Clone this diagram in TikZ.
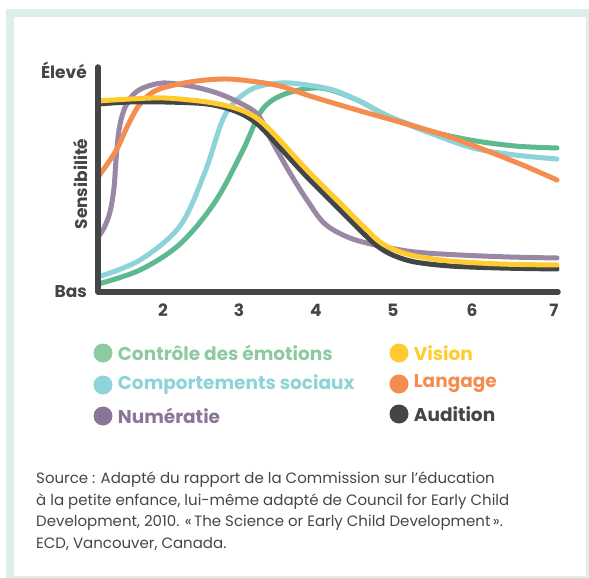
\documentclass[tikz,border=0pt]{standalone}
\usepackage{fontspec}
\setmainfont{Poppins}
\usetikzlibrary{positioning}
\definecolor{framecol}{HTML}{DCEFE9}
\definecolor{axisgray}{HTML}{434647}
\definecolor{emogreen}{HTML}{5DB98F}
\definecolor{legemo}{HTML}{8DCA9F}
\definecolor{soccyan}{HTML}{8DD3D8}
\definecolor{numpurple}{HTML}{9A87A3}
\definecolor{legnum}{HTML}{8A7699}
\definecolor{visyellow}{HTML}{FFCB2F}
\definecolor{langorange}{HTML}{F48D4F}
\begin{document}
\begin{tikzpicture}[x=1pt,y=-1pt,
    axis/.style={line width=5.5pt,axisgray,line cap=round,line join=round},
    curve/.style={line width=5pt,line cap=round,smooth,tension=0.55},
    lbl/.style={font=\fontsize{17}{20}\selectfont\bfseries,text=axisgray,inner sep=0pt},
    dot/.style={circle,inner sep=0pt,minimum size=19pt},
    legtxt/.style={font=\fontsize{18.5}{22}\selectfont\bfseries,inner sep=0pt,right=5pt of #1}]
    \useasboundingbox (0,0) rectangle (589,578);
    %draw frame
    \draw[line width=8pt,framecol] (10,13) rectangle (590,580);
    %draw curves
    \draw[curve,emogreen] plot coordinates {(98,284) (140,270) (180,244) (215,202) (243,150) (262,110) (285,94) (320,88) (355,99) (390,117) (430,131) (470,140) (515,146) (557,148)};
    \draw[curve,soccyan] plot coordinates {(98,277) (140,260) (180,226) (205,172) (225,115) (250,90) (280,83) (307,85) (333,90) (357,100) (390,117) (430,133) (473,148) (515,155) (557,159)};
    \draw[curve,numpurple] plot coordinates {(98,237) (104,228) (110,212) (114,188) (116,160) (119,130) (124,110) (132,96) (143,88) (163,83) (190,86) (217,93) (240,103) (258,115) (273,143) (290,173) (307,200) (325,224) (350,238) (380,246) (415,252) (460,255) (510,257) (557,258)};
    \draw[curve,langorange] plot coordinates {(98,177) (108,163) (118,147) (128,125) (140,104) (157,90) (190,82) (223,79) (250,81) (280,86) (310,96) (357,110) (410,125) (450,137) (490,152) (525,166) (557,180)};
    \draw[curve,axisgray] plot coordinates {(98,104) (130,102) (165,102) (207,104) (235,111) (255,122) (273,140) (307,177) (340,210) (365,235) (380,248) (395,256) (415,262) (450,266) (500,268) (557,269)};
    \draw[curve,visyellow] plot coordinates {(98,101) (130,99) (165,98) (207,102) (235,108) (255,117) (273,133) (307,170) (340,203) (365,228) (380,242) (395,250) (415,256) (450,261) (500,264) (557,265)};
    %draw axis
    \coordinate (ytop) at (98,67);
    \coordinate (orig) at (98,292);
    \coordinate (xend) at (558,292);
    \draw[axis] (ytop) -- (orig) -- (xend);
    %draw axis value
    \foreach \t/\px in {2/163,3/239,4/316,5/393,6/472,7/554}
        {%
            \node[lbl] (tick\t) at (\px,310) {\t};
        }
    \node[lbl,anchor=east] (high) at (87,70) {Élevé};
    \node[lbl,anchor=east] (low) at (87,292) {Bas};
    \node[lbl,rotate=90] (sens) at (80.5,184) {Sensibilité};
    %draw legend
    \node[dot,fill=legemo] (demo) at (103,353) {};
    \node[legtxt=demo,text=legemo] (temo) {Contrôle des émotions};
    \node[dot,fill=soccyan] (dsoc) at (103,385) {};
    \node[legtxt=dsoc,text=soccyan] (tsoc) {Comportements sociaux};
    \node[dot,fill=legnum] (dnum) at (103,416) {};
    \node[legtxt=dnum,text=legnum] (tnum) {Numératie};
    \node[dot,fill=visyellow] (dvis) at (399,353) {};
    \node[legtxt=dvis,text=visyellow] (tvis) {Vision};
    \node[dot,fill=langorange] (dlang) at (399,384) {};
    \node[legtxt=dlang,text=langorange] (tlang) {Langage};
    \node[dot,fill=axisgray] (daud) at (399,414) {};
    \node[legtxt=daud,text=axisgray] (taud) {Audition};
    %draw source
    \node[anchor=north west,inner sep=0pt,align=left,text=axisgray,
        font=\fontsize{15}{21.5}\selectfont] (source) at (36,472)
        {Source : Adapté du rapport de la Commission sur l’éducation\\
        à la petite enfance, lui-même adapté de Council for Early Child\\
        Development, 2010. «\,The Science or Early Child Development\,».\\
        ECD, Vancouver, Canada.};
\end{tikzpicture}
\end{document}
